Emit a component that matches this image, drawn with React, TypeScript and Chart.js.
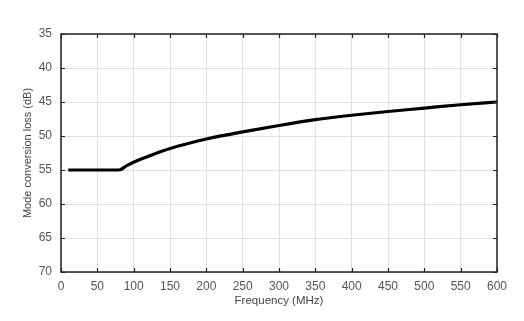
import React, { useEffect, useRef } from "react";
import { Chart, registerables } from "chart.js";
Chart.register(...registerables);

const frequencies = [10, 80, 90, 100, 125, 150, 175, 200, 250, 300, 350, 400, 450, 500, 550, 600];
const lossValues = [55, 55, 54.4, 53.85, 52.8, 51.85, 51.1, 50.45, 49.4, 48.45, 47.6, 46.95, 46.4, 45.9, 45.4, 45.0];
const xTitle = "Frequency (MHz)";
const yTitle = "Mode conversion loss (dB)";

const framePlugin = {
  id: "frame",
  afterDatasetsDraw(chart: any) {
    const { ctx, chartArea: a, scales } = chart;
    ctx.save();
    ctx.strokeStyle = "#222";
    ctx.lineWidth = 1.2;
    const len = 4;
    ctx.beginPath();
    scales.x.ticks.forEach((t: any) => {
      const px = Math.round(scales.x.getPixelForValue(t.value)) + 0.5;
      ctx.moveTo(px, a.bottom);
      ctx.lineTo(px, a.bottom - len);
      ctx.moveTo(px, a.top);
      ctx.lineTo(px, a.top + len);
    });
    scales.y.ticks.forEach((t: any) => {
      const py = Math.round(scales.y.getPixelForValue(t.value)) + 0.5;
      ctx.moveTo(a.left, py);
      ctx.lineTo(a.left + len, py);
      ctx.moveTo(a.right, py);
      ctx.lineTo(a.right - len, py);
    });
    ctx.stroke();
    ctx.lineWidth = 1.5;
    ctx.strokeRect(a.left, a.top, a.right - a.left, a.bottom - a.top);
    ctx.restore();
  },
};

const fontFamily = "Liberation Sans, Arial, sans-serif";

export default function App() {
  const ref = useRef<HTMLCanvasElement>(null);
  useEffect(() => {
    const chart = new Chart(ref.current!, {
      type: "line",
      data: {
        datasets: [
          {
            data: frequencies.map((f, i) => ({ x: f, y: lossValues[i] })),
            borderColor: "#000",
            borderWidth: 3.2,
            pointRadius: 0,
            cubicInterpolationMode: "monotone",
            fill: false,
          },
        ],
      },
      options: {
        animation: false,
        responsive: false,
        maintainAspectRatio: false,
        layout: { padding: { left: 21, top: 34, right: 27, bottom: 0 } },
        plugins: { legend: { display: false }, tooltip: { enabled: false } },
        scales: {
          x: {
            type: "linear",
            min: 0,
            max: 600,
            ticks: { stepSize: 50, color: "#555", font: { family: fontFamily, size: 12 }, padding: 7 },
            grid: { color: "#e0e0e0", drawTicks: false, lineWidth: 1 },
            border: { display: false },
            title: { display: true, text: xTitle, color: "#444", font: { family: fontFamily, size: 11.5 }, padding: { top: 0, bottom: 13 } },
            afterFit: (s: any) => { s.height = 49; },
          },
          y: {
            type: "linear",
            min: 35,
            max: 70,
            reverse: true,
            ticks: { stepSize: 5, color: "#555", font: { family: fontFamily, size: 12 }, padding: 9 },
            grid: { color: "#e0e0e0", drawTicks: false, lineWidth: 1 },
            border: { display: false },
            title: { display: true, text: yTitle, color: "#444", font: { family: fontFamily, size: 11 }, padding: { top: 0, bottom: 0 } },
            afterFit: (s: any) => { s.width = 40; },
          },
        },
      },
      plugins: [framePlugin],
    });
    return () => chart.destroy();
  }, []);
  return (
    <div style={{ position: "fixed", left: 0, top: 0, width: 524, height: 321, background: "#fff" }}>
      <canvas ref={ref} width={524} height={321} />
    </div>
  );
}
